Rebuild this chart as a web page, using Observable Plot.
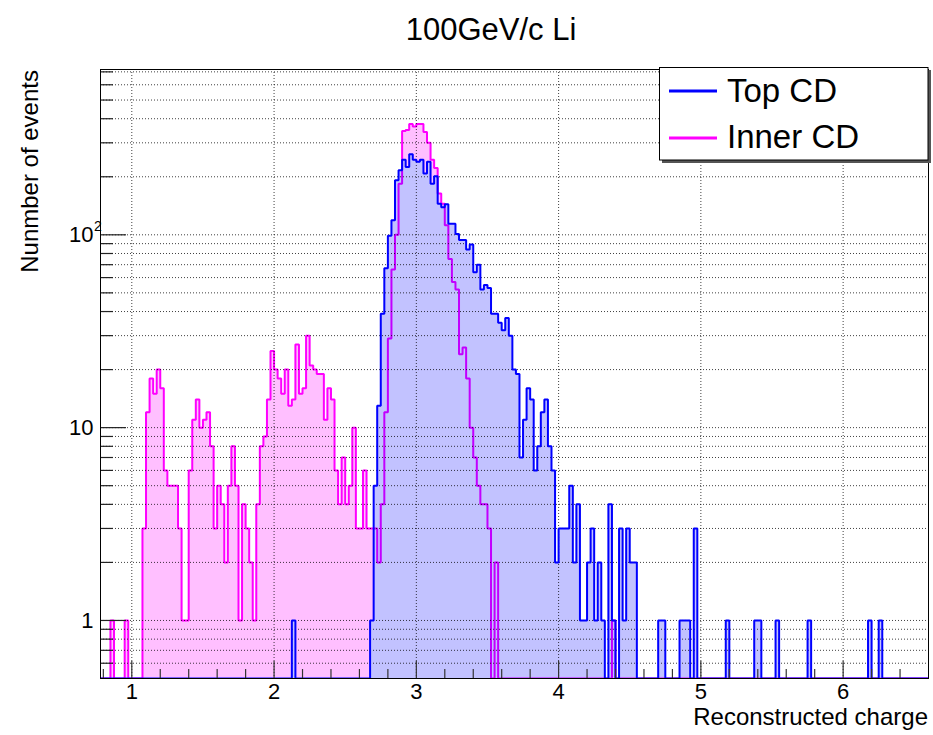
<!DOCTYPE html>
<html><head><meta charset="utf-8">
<script src="https://cdn.jsdelivr.net/npm/d3@7"></script>
<script src="https://cdn.jsdelivr.net/npm/@observablehq/plot@0.6"></script>
<style>body{margin:0;background:#fff} svg{display:block}</style>
</head><body><div id="chart"></div>
<script>
// ---- data: histogram bins (low edge = binStart + i*binWidth) ----
const binStart = 0.775, binWidth = 0.025;
const topCD = [
  0,0,0,0,0,0,0,0,0,0,        // 0-9
  0,0,0,0,0,0,0,0,0,0,        // 10-19
  0,0,0,0,0,0,0,0,0,0,        // 20-29
  0,0,0,0,0,0,0,0,0,0,        // 30-39
  0,0,0,0,0,0,0,0,0,0,        // 40-49
  0,0,0,0,1,0,0,0,0,0,        // 50-59
  0,0,0,0,0,0,0,0,0,0,        // 60-69
  0,0,0,0,0,0,1,5,13,39,      // 70-79
  67,99,119,192,216,245,225,262,245,239, // 80-89
  245,208,239,184,201,145,139,144,114,114, // 90-99
  101,94,94,84,89,64,70,52,55,53, // 100-109
  39,39,35,32,37,30,20,19,7,11, // 110-119
  16,14,6,8,12,14,8,6,2,3,    // 120-129
  3,3,5,2,4,1,1,2,3,1,        // 130-139
  2,1,0,4,1,0,3,1,3,2,        // 140-149
  2,0,0,0,0,0,0,1,1,0,        // 150-159
  0,0,0,1,1,1,0,3,0,0,        // 160-169
  0,0,0,0,0,0,1,0,0,0,        // 170-179
  0,0,0,0,1,1,0,0,0,0,        // 180-189
  1,0,0,0,0,0,0,0,0,1,        // 190-199
  0,0,0,0,0,0,0,0,0,0,        // 200-209
  0,0,0,0,0,0,1,0,0,1,        // 210-219
  0,0,0,0,0,0,0,0,0,0,        // 220-229
  0,0,0                       // 230-232
];
const innerCD = [
  0,0,0,1,0,0,0,1,0,0,        // 0-9
  0,0,3,12,18,15,20,16,6,5,   // 10-19
  5,5,3,1,1,6,11,14,10,11,    // 20-29
  12,8,3,5,4,2,5,8,5,1,       // 30-39
  4,3,2,1,4,8,9,14,25,20,     // 40-49
  18,15,20,13,14,27,15,16,30,21, // 50-59
  20,19,19,11,16,14,6,4,7,4,  // 60-69
  5,10,3,3,6,3,3,3,2,4,       // 70-79
  12,29,66,100,184,345,350,376,364,376, // 80-89
  376,341,300,245,222,164,145,112,75,57, // 90-99
  52,24,26,18,10,7,5,4,4,3,   // 100-109
  0,2,0,0,0,0,0,0,0,0,        // 110-119
  0,0,0,0,0,0,0,0,0,0,        // 120-129
  0,0,0,0,0,0,0,0,0,0,        // 130-139
  0,0,0,0,1,0,0,0,0,0,        // 140-149
  0,0,0,0,0,0,0,0,0,0,        // 150-159
  0,0,0,0,0,0,0,0,0,0,        // 160-169
  0,0,0,0,0,0,0,0,0,0,        // 170-179
  0,0,0,0,0,0,0,0,0,0,        // 180-189
  0,0,0,0,0,0,0,0,0,0,        // 190-199
  0,0,0,0,0,0,0,0,0,0,        // 200-209
  0,0,0,0,0,0,0,0,0,0,        // 210-219
  0,0,0,0,0,0,0,0,0,0,        // 220-229
  0,0,0                       // 230-232
];
const xMajor = [1, 2, 3, 4, 5, 6];
const xLabels = ["1", "2", "3", "4", "5", "6"];
const xMinor = [0.8,1.2,1.4,1.6,1.8,2.2,2.4,2.6,2.8,3.2,3.4,3.6,3.8,4.2,4.4,4.6,4.8,5.2,5.4,5.6,5.8,6.2,6.4];
const yMajor = [1, 10, 100];
const yLabels = ["1", "10"];
const yMinor = [0.6,0.7,0.8,0.9,2,3,4,5,6,7,8,9,20,30,40,50,60,70,80,90,200,300,400,500,600,700];
const xDomain = [0.78, 6.6];
const yDomain = [0.5, 720];
const seriesNames = ["Top CD", "Inner CD"];
const titleText = "100GeV/c Li";
const xTitle = "Reconstructed charge";
const yTitle = "Nunmber of events";

// ---- build step outlines ----
function steps(counts) {
  const pts = [];
  counts.forEach((c, i) => {
    const lo = binStart + i * binWidth, hi = lo + binWidth;
    const v = c > 0 ? c : yDomain[0];
    pts.push({x: lo, y: v}, {x: hi, y: v});
  });
  return pts;
}
const topPts = steps(topCD), innerPts = steps(innerCD);

const W = 933, H = 735, mL = 100, mR = 5, mT = 69, mB = 57;
const pw = W - mL - mR, ph = H - mT - mB;
const BLUE = "#0000ff", MAG = "#ff00ff";
const FONT = "'Liberation Sans', Arial, Helvetica, sans-serif";

const grid = {stroke: "#000", strokeOpacity: 0.75, strokeDasharray: "1,2", strokeWidth: 1};

const plot = Plot.plot({
  width: W, height: H,
  marginLeft: mL, marginRight: mR, marginTop: mT, marginBottom: mB,
  style: {fontFamily: FONT, background: "#fff", overflow: "visible"},
  x: {domain: xDomain, axis: null},
  y: {type: "log", domain: yDomain, axis: null},
  marks: [
    Plot.areaY(innerPts, {x: "x", y1: () => yDomain[0], y2: "y", fill: MAG, fillOpacity: 0.25, clip: true}),
    Plot.areaY(topPts, {x: "x", y1: () => yDomain[0], y2: "y", fill: "#fff", clip: true}),
    Plot.line(innerPts, {x: "x", y: "y", stroke: MAG, strokeWidth: 2, strokeLinejoin: "miter", clip: true}),
    Plot.areaY(topPts, {x: "x", y1: () => yDomain[0], y2: "y", fill: BLUE, fillOpacity: 0.24, clip: true}),
    Plot.ruleY([...yMajor, ...yMinor], grid),
    Plot.ruleX(xMajor, grid),
    Plot.line(topPts, {x: "x", y: "y", stroke: BLUE, strokeWidth: 2, strokeLinejoin: "miter", clip: true}),
    // ticks (inside the frame)
    Plot.ruleY(yMajor, {stroke: "#222", strokeWidth: 1.2, insetRight: pw - 26}),
    Plot.ruleY(yMinor, {stroke: "#222", strokeWidth: 1.2, insetRight: pw - 13}),
    Plot.ruleX(xMajor, {stroke: "#333", strokeWidth: 1.2, insetTop: ph - 17}),
    Plot.ruleX(xMinor, {stroke: "#333", strokeWidth: 1.2, insetTop: ph - 9}),
    Plot.frame({stroke: "#000", strokeWidth: 1}),
    // tick labels
    Plot.text(xMajor, {x: d => d, text: (d, i) => xLabels[i], frameAnchor: "bottom", dy: 20, fontSize: 22, fill: "#000"}),
    Plot.text(yMajor.slice(0, 2), {y: d => d, text: (d, i) => yLabels[i], frameAnchor: "left", textAnchor: "end", dx: -7, fontSize: 22, fill: "#000"}),
    Plot.text([100], {y: d => d, text: () => "10", frameAnchor: "left", textAnchor: "end", dx: -7, fontSize: 22, fill: "#000"}),
    Plot.text([100], {y: d => d, text: () => "2", frameAnchor: "left", textAnchor: "start", dx: -6.5, dy: -8, fontSize: 14, fill: "#000"})
  ]
});
document.getElementById("chart").appendChild(plot);

const svg = d3.select(plot);
// title
svg.append("text").attr("x", 491).attr("y", 40).attr("text-anchor", "middle")
  .attr("font-family", FONT).attr("font-size", 31).attr("fill", "#000").text(titleText);
// axis titles
svg.append("text").attr("x", W - mR).attr("y", 725).attr("text-anchor", "end")
  .attr("font-family", FONT).attr("font-size", 24).attr("fill", "#000").text(xTitle);
svg.append("text").attr("transform", `translate(38,${mT + 1}) rotate(-90)`).attr("text-anchor", "end")
  .attr("font-family", FONT).attr("font-size", 24).attr("fill", "#000").text(yTitle);
// legend
const lg = svg.append("g");
lg.append("rect").attr("x", 662).attr("y", 70).attr("width", 269).attr("height", 93).attr("fill", "#555");
lg.append("rect").attr("x", 659.5).attr("y", 67.5).attr("width", 268.5).attr("height", 92.5)
  .attr("fill", "#fff").attr("stroke", "#000").attr("stroke-width", 1);
[[BLUE, 91, 102], [MAG, 138, 148]].forEach(([c, ly, ty], i) => {
  lg.append("line").attr("x1", 669).attr("x2", 717).attr("y1", ly).attr("y2", ly)
    .attr("stroke", c).attr("stroke-width", 3);
  lg.append("text").attr("x", 727).attr("y", ty).attr("text-anchor", "start").attr("font-family", FONT)
    .attr("font-size", 33).attr("fill", "#000").text(seriesNames[i]);
});
</script>
</body></html>
